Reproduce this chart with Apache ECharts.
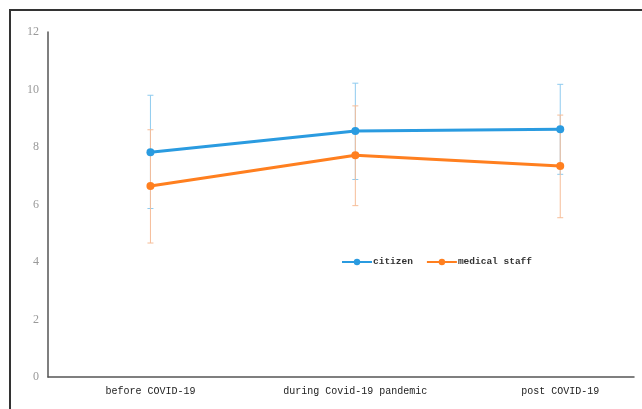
<!DOCTYPE html>
<html>
<head>
<meta charset="utf-8">
<script src="https://cdn.jsdelivr.net/npm/echarts@6/dist/echarts.min.js"></script>
<style>
html,body{margin:0;padding:0;background:#fff;overflow:hidden;}
#wrap{position:relative;width:642px;height:409px;overflow:hidden;}
#chart{position:absolute;left:0;top:0;width:642px;height:409px;}
#frame{position:absolute;left:9px;top:9px;width:700px;height:500px;border-left:2px solid #333;border-top:2px solid #333;pointer-events:none;}
</style>
</head>
<body>
<div id="wrap"><div id="chart"></div><div id="frame"></div></div>
<script>
const categories = ['before COVID-19', 'during Covid-19 pandemic', 'post COVID-19'];
const citizen = [7.82, 8.56, 8.62];
const citizenLow = [5.86, 6.87, 7.05];
const citizenHigh = [9.80, 10.22, 10.18];
const medical = [6.64, 7.71, 7.34];
const medicalLow = [4.66, 5.96, 5.54];
const medicalHigh = [8.60, 9.43, 9.11];
const yTicks = [0, 2, 4, 6, 8, 10, 12];

const chart = echarts.init(document.getElementById('chart'));

function errSeries(name, low, high, color) {
  return {
    type: 'custom',
    name: name + ' err',
    z: 1,
    silent: true,
    data: low.map((l, i) => [i, l, high[i]]),
    encode: { x: 0, y: [1, 2] },
    renderItem: function (params, api) {
      const x = api.value(0);
      const lo = api.coord([x, api.value(1)]);
      const hi = api.coord([x, api.value(2)]);
      const w = 3;
      const st = { stroke: color, lineWidth: 1 };
      return {
        type: 'group',
        children: [
          { type: 'line', shape: { x1: hi[0], y1: hi[1], x2: lo[0], y2: lo[1] }, style: st },
          { type: 'line', shape: { x1: hi[0] - w, y1: hi[1], x2: hi[0] + w, y2: hi[1] }, style: st },
          { type: 'line', shape: { x1: lo[0] - w, y1: lo[1], x2: lo[0] + w, y2: lo[1] }, style: st }
        ]
      };
    }
  };
}

const option = {
  animation: false,
  backgroundColor: '#fff',
  grid: { left: 48, right: 8, top: 32, bottom: 32, containLabel: false },
  legend: {
    data: ['citizen', 'medical staff'],
    left: 336, top: 252,
    itemWidth: 30, itemHeight: 8, itemGap: 13,
    textStyle: { fontFamily: 'Liberation Mono', fontSize: 9.5, fontWeight: 'bold', color: '#333', padding: [0, 0, 0, -4] }
  },
  xAxis: {
    type: 'value',
    min: -0.5, max: 2.36,
    splitLine: { show: false },
    axisTick: { show: false },
    axisLine: { show: true, onZero: false, lineStyle: { color: '#555', width: 1.5 } },
    axisLabel: {
      customValues: [0, 1, 2],
      formatter: v => categories[Math.round(v)] || '',
      fontFamily: 'Liberation Mono', fontSize: 10, color: '#222', margin: 9
    }
  },
  yAxis: {
    type: 'value',
    min: 0, max: 12, interval: 2,
    splitLine: { show: false },
    axisTick: { show: false },
    axisLine: { show: true, onZero: false, lineStyle: { color: '#555', width: 1.5 } },
    axisLabel: {
      formatter: v => (yTicks.indexOf(v) >= 0 ? String(v) : ''),
      fontFamily: 'Liberation Serif', fontSize: 12, color: '#999', margin: 9
    }
  },
  series: [
    errSeries('citizen', citizenLow, citizenHigh, '#8fcbef'),
    errSeries('medical staff', medicalLow, medicalHigh, '#f6bd98'),
    {
      name: 'citizen', type: 'line', z: 3,
      data: citizen.map((v, i) => [i, v]),
      symbol: 'circle', symbolSize: 8,
      color: '#2a9be0',
      lineStyle: { width: 3, color: '#2a9be0' },
      itemStyle: { color: '#2a9be0' }
    },
    {
      name: 'medical staff', type: 'line', z: 3,
      data: medical.map((v, i) => [i, v]),
      symbol: 'circle', symbolSize: 8,
      color: '#ff7f1f',
      lineStyle: { width: 3, color: '#ff7f1f' },
      itemStyle: { color: '#ff7f1f' }
    }
  ]
};
chart.setOption(option);
</script>
</body>
</html>
